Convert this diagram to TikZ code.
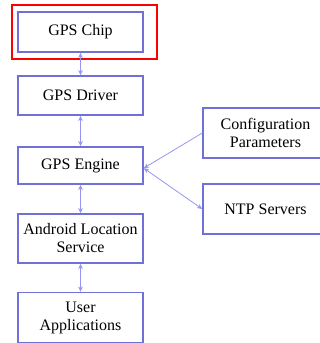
\documentclass[tikz,border=0pt]{standalone}
\usepackage{fontspec}
\setmainfont{Liberation Serif}
\usetikzlibrary{arrows.meta}
\definecolor{boxblue}{RGB}{112,112,214}
\definecolor{arrowblue}{RGB}{150,150,240}
\tikzset{
	block/.style={draw=boxblue,line width=1.1pt,align=center,font=\fontsize{12}{13.5}\selectfont,minimum width=93.75pt},
	link/.style={draw=arrowblue,line width=0.6pt,{Stealth[length=4pt,width=3.5pt]}-{Stealth[length=4pt,width=3.5pt]}},
	feed/.style={draw=arrowblue,line width=0.6pt,-{Stealth[length=4pt,width=3.5pt]}}
}
\begin{document}
\begin{tikzpicture}[x=0.75pt,y=-0.75pt]
	\useasboundingbox (0,0) rectangle (320,343);
	\node[block,minimum height=30pt] (chip) at (80.5,32) {GPS Chip};
	\node[draw=red,line width=1.9pt,minimum width=108.75pt,minimum height=40.5pt] (mark) at (84.5,32) {};
	\node[block,minimum height=29.25pt] (driver) at (80.5,95.5) {GPS Driver};
	\node[block,minimum height=27.75pt] (engine) at (80.5,165.5) {GPS Engine};
	\node[block,minimum height=36.75pt] (android) at (80.5,238.5) {Android Location\\Service};
	\node[block,minimum height=37.5pt] (user) at (80.5,317.5) {User\\Applications};
	\node[block,minimum height=37.5pt] (config) at (265.5,133) {Configuration\\Parameters};
	\node[block,minimum height=37.5pt] (ntp) at (265.5,209) {NTP Servers};
	\draw[link] (chip) -- (driver);
	\draw[link] (driver) -- (engine);
	\draw[link] (engine) -- (android);
	\draw[link] (android) -- (user);
	\draw[feed] (config.west) -- ([yshift=-2pt]engine.east);
	\draw[link] ([yshift=-2pt]engine.east) -- (ntp.west);
\end{tikzpicture}
\end{document}
